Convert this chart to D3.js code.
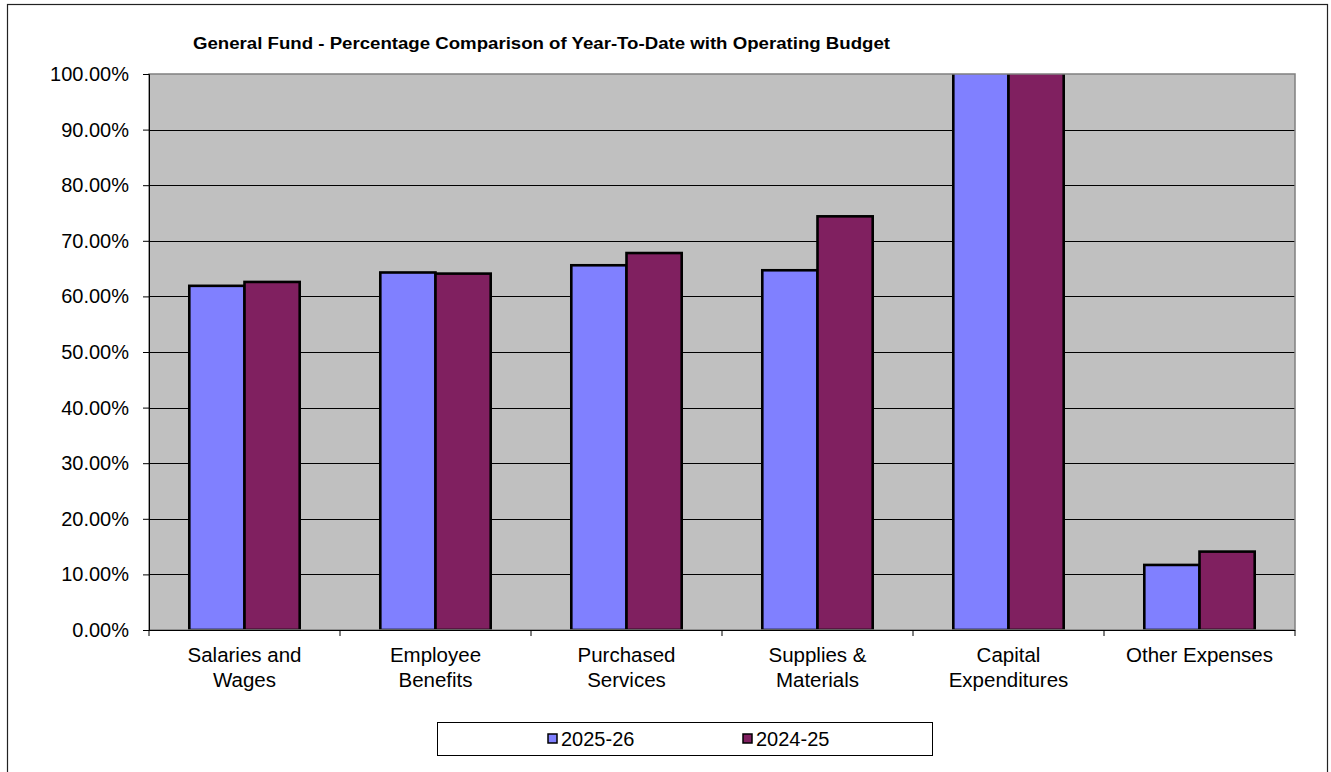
<!DOCTYPE html>
<html>
<head>
<meta charset="utf-8">
<script src="https://cdn.jsdelivr.net/npm/d3@7"></script>
<style>
  body { margin: 0; background: #fff; }
  svg text { font-family: "Liberation Sans", Arial, sans-serif; fill: #000; }
</style>
</head>
<body>
<svg id="chart"></svg>
<script>
const categories = [
    ["Salaries and", "Wages"],
    ["Employee", "Benefits"],
    ["Purchased", "Services"],
    ["Supplies &", "Materials"],
    ["Capital", "Expenditures"],
    ["Other Expenses"]
];
const seriesNames = ["2025-26", "2024-25"];
const values2526 = [0.619, 0.643, 0.656, 0.647, 1.25, 0.117];
const values2425 = [0.626, 0.641, 0.678, 0.744, 1.25, 0.141];
const yTicks = [0, 0.1, 0.2, 0.3, 0.4, 0.5, 0.6, 0.7, 0.8, 0.9, 1.0];
const colors = ["#8080ff", "#802060"];

const W = 1331, H = 772;
const plot = { left: 149, top: 74, right: 1295, bottom: 630 };

const svg = d3.select("#chart").attr("width", W).attr("height", H);

// outer frame
svg.append("rect")
    .attr("x", 7.5).attr("y", 4.5)
    .attr("width", 1320).attr("height", 800)
    .attr("fill", "#fff")
    .attr("stroke", "#222")
    .attr("stroke-width", 1.2);

svg.append("text")
    .attr("x", 193).attr("y", 49)
    .attr("font-size", 16)
    .attr("font-weight", "bold")
    .attr("textLength", 697)
    .attr("lengthAdjust", "spacingAndGlyphs")
    .text("General Fund - Percentage Comparison of Year-To-Date with Operating Budget");

const x = d3.scaleBand()
    .domain(d3.range(categories.length))
    .range([plot.left, plot.right]);

const x1 = d3.scaleBand()
    .domain(seriesNames)
    .range([0, x.bandwidth()])
    .paddingOuter(0.73);

const y = d3.scaleLinear()
    .domain([0, 1])
    .range([plot.bottom, plot.top]);

// plot background
svg.append("rect")
    .attr("x", plot.left).attr("y", plot.top)
    .attr("width", plot.right - plot.left)
    .attr("height", plot.bottom - plot.top)
    .attr("fill", "#c0c0c0");

// gridlines
svg.append("g")
    .selectAll("line")
    .data(yTicks.slice(1, -1))
    .join("line")
    .attr("x1", plot.left).attr("x2", plot.right)
    .attr("y1", d => Math.round(y(d)) + 0.5)
    .attr("y2", d => Math.round(y(d)) + 0.5)
    .attr("stroke", "#000")
    .attr("stroke-width", 1);

svg.append("clipPath").attr("id", "clip")
    .append("rect")
    .attr("x", plot.left).attr("y", plot.top)
    .attr("width", plot.right - plot.left)
    .attr("height", plot.bottom - plot.top);

const bars = svg.append("g").attr("clip-path", "url(#clip)");
const allSeries = [values2526, values2425];

allSeries.forEach((vals, si) => {
    bars.selectAll(".s" + si)
        .data(vals)
        .join("rect")
        .attr("class", "s" + si)
        .attr("x", (d, i) => x(i) + x1(seriesNames[si]))
        .attr("y", d => y(d))
        .attr("width", x1.bandwidth())
        .attr("height", d => y(0) - y(d))
        .attr("fill", colors[si])
        .attr("stroke", "#000")
        .attr("stroke-width", 2.6);
});

// plot border
svg.append("rect")
    .attr("x", plot.left).attr("y", plot.top)
    .attr("width", plot.right - plot.left)
    .attr("height", plot.bottom - plot.top)
    .attr("fill", "none")
    .attr("stroke", "#808080")
    .attr("stroke-width", 1.5);

// y axis
const yAxis = svg.append("g")
    .attr("transform", `translate(${plot.left},0)`)
    .call(d3.axisLeft(y).tickValues(yTicks).tickFormat(d3.format(".2%")).tickSize(6).tickPadding(14));
yAxis.select(".domain").attr("stroke", "#000");
yAxis.selectAll(".tick line").attr("stroke", "#000");
yAxis.selectAll(".tick text")
    .attr("font-size", 20)
    .attr("font-family", "Liberation Sans, Arial, sans-serif")
    .attr("fill", "#000");

// x axis
const xAxisG = svg.append("g");
xAxisG.append("line")
    .attr("x1", plot.left).attr("x2", plot.right)
    .attr("y1", plot.bottom + 0.5).attr("y2", plot.bottom + 0.5)
    .attr("stroke", "#000");
xAxisG.selectAll(".xt")
    .data(d3.range(categories.length + 1))
    .join("line")
    .attr("class", "xt")
    .attr("x1", d => d < categories.length ? x(d) : plot.right)
    .attr("x2", d => d < categories.length ? x(d) : plot.right)
    .attr("y1", plot.bottom).attr("y2", plot.bottom + 6)
    .attr("stroke", "#000");

const labels = svg.append("g");
categories.forEach((lines, i) => {
    const t = labels.append("text")
        .attr("text-anchor", "middle")
        .attr("font-size", 20.5);
    lines.forEach((ln, li) => {
        t.append("tspan")
            .attr("x", x(i) + x.bandwidth() / 2)
            .attr("y", 662 + li * 25)
            .text(ln);
    });
});

// legend
const legend = svg.append("g");
legend.append("rect")
    .attr("x", 437.5).attr("y", 722.5)
    .attr("width", 495).attr("height", 33)
    .attr("fill", "#fff")
    .attr("stroke", "#000");

const legendX = [548, 743];
seriesNames.forEach((name, i) => {
    legend.append("rect")
        .attr("x", legendX[i]).attr("y", 734)
        .attr("width", 9).attr("height", 9)
        .attr("fill", colors[i])
        .attr("stroke", "#000")
        .attr("stroke-width", 1.5);
    legend.append("text")
        .attr("x", legendX[i] + 13).attr("y", 746)
        .attr("font-size", 20)
        .text(name);
});
</script>
</body>
</html>
